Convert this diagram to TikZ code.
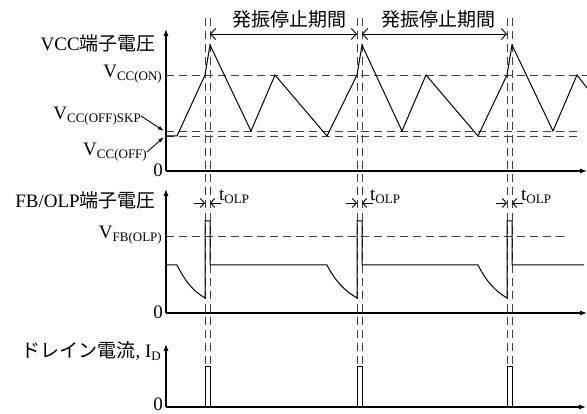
\documentclass[tikz,border=0pt]{standalone}
\usepackage{fontspec}
\setmainfont{Liberation Serif}
\newfontfamily\jp{Noto Sans CJK JP}
\usetikzlibrary{arrows.meta}
\newcommand{\subs}[1]{\raisebox{-0.35ex}{\fontsize{13}{13}\selectfont #1}}

\begin{document}
\begin{tikzpicture}
          [x=1pt,y=-1pt,
          font=\fontsize{19}{22}\selectfont,
          lbl/.style={inner sep=0pt},
          axis/.style={-{Latex[length=7pt,width=5pt]},line width=1.1pt},
          wave/.style={line width=1pt},
          guide/.style={dash pattern=on 8pt off 5pt,line width=0.8pt,black!75},
          span/.style={{Straight Barb[length=5pt,width=11pt]}-{Straight Barb[length=5pt,width=11pt]},line width=0.9pt},
          barb/.style={-{Straight Barb[length=4pt,width=9pt]},line width=0.9pt},
          ptr/.style={-{Latex[length=6pt,width=4pt]},line width=0.9pt}]

            \useasboundingbox (0,0) rectangle (587,414);

            % labels
            \node (vcc) [lbl,anchor=east] at (156,43) {VCC{\jp 端子電圧}};
            \node (von) [lbl,anchor=east] at (162,74) {V\subs{CC(ON)}};
            \node (vskp) [lbl,anchor=east] at (141,116) {V\subs{CC(OFF)SKP}};
            \node (voff) [lbl,anchor=east] at (147,152) {V\subs{CC(OFF)}};
            \node (z1) [lbl,anchor=east] at (163,170) {0};
            \node (fb) [lbl,anchor=east] at (156,200) {FB/OLP{\jp 端子電圧}};
            \node (vfb) [lbl,anchor=east] at (162,235) {V\subs{FB(OLP)}};
            \node (z2) [lbl,anchor=east] at (163,312) {0};
            \node (id) [lbl,anchor=east] at (161,351) {{\jp ドレイン電流}, I\subs{D}};
            \node (z3) [lbl,anchor=east] at (163,404) {0};
            \node (stop1) [lbl] at (289,19) {\jp 発振停止期間};
            \node (stop2) [lbl] at (438,19) {\jp 発振停止期間};
            \node (t1) [lbl,anchor=west] at (219,197) {t\subs{OLP}};
            \node (t2) [lbl,anchor=west] at (370,197) {t\subs{OLP}};
            \node (t3) [lbl,anchor=west] at (521,197) {t\subs{OLP}};

            \coordinate (skp) at (164,131);
            \coordinate (off) at (164,137);
            \coordinate (a1) at (210,34);
            \coordinate (a2) at (357,34);
            \coordinate (a3) at (362,34);
            \coordinate (a4) at (507,34);

            % axes
            \draw [axis] (166,171) -- (166,29);
            \draw [axis] (166,171) -- (587,171);
            \draw [axis] (166,313) -- (166,189);
            \draw [axis] (166,313) -- (587,313);
            \draw [axis] (166,407) -- (166,344);
            \draw [axis] (166,407) -- (586,407);

            % levels
            \draw [guide] (166,75) -- (587,75);
            \draw [guide] (166,131) -- (582,131);
            \draw [guide] (166,136) -- (582,136);
            \draw [guide] (166,236) -- (567,236);

            % timing marks
            \draw [guide] (205,18) -- (205,407);
            \draw [guide] (210,18) -- (210,407);
            \draw [guide] (357,18) -- (357,407);
            \draw [guide] (362,18) -- (362,407);
            \draw [guide] (507,18) -- (507,407);
            \draw [guide] (512,18) -- (512,407);

            \draw [span] (a1) -- (a2);
            \draw [span] (a3) -- (a4);
            \draw [ptr] (vskp.east) -- (skp);
            \draw [ptr] (voff.east) -- (off);

            \draw [barb] (194,203) -- (205,203);
            \draw [barb] (221,203) -- (210,203);
            \draw [barb] (346,203) -- (357,203);
            \draw [barb] (373,203) -- (362,203);
            \draw [barb] (496,203) -- (507,203);
            \draw [barb] (523,203) -- (512,203);

            % VCC
            \draw [wave] (166,136) -- (177,136) -- (205,75) -- (210,45) -- (251,131)
              -- (275,75) -- (327,136) -- (357,75) -- (362,45) -- (402,131)
              -- (426,75) -- (478,136) -- (507,75) -- (512,45) -- (553,131)
              -- (577,75) -- (587,88);

            % FB/OLP
            \draw [wave] (166,265) -- (177,265) .. controls (185,281) and (193,291) .. (205,298)
              -- (205,221) -- (210,221) -- (210,265) -- (327,265)
              .. controls (335,281) and (345,291) .. (357,298)
              -- (357,221) -- (362,221) -- (362,265) -- (478,265)
              .. controls (486,281) and (495,291) .. (507,298)
              -- (507,221) -- (512,221) -- (512,265) -- (584,265);

            % ID
            \draw [wave] (205,407) -- (205,367) -- (210,367) -- (210,407);
            \draw [wave] (357,407) -- (357,367) -- (362,367) -- (362,407);
            \draw [wave] (507,407) -- (507,367) -- (512,367) -- (512,407);

        \end{tikzpicture}
\end{document}
